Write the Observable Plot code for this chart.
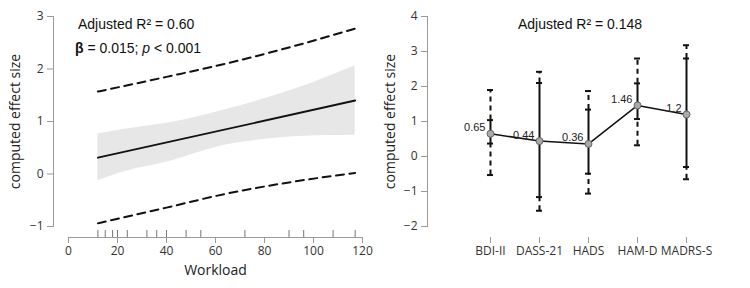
<!DOCTYPE html>
<html>
<head>
<meta charset="utf-8">
<script src="https://cdn.jsdelivr.net/npm/d3@7"></script>
<script src="https://cdn.jsdelivr.net/npm/@observablehq/plot@0.6"></script>
<style>
  body { margin: 0; background: #fff; }
  #chart { position: relative; width: 750px; height: 288px; display: flex; }
  #chart > div.panel { width: 375px; height: 288px; }
  .note {
    position: absolute;
    font-family: "Liberation Sans", Arial, sans-serif;
    font-size: 14px;
    line-height: 14px;
    color: #111;
    white-space: nowrap;
  }
</style>
</head>
<body>
<div id="chart">
  <div class="panel" id="left"></div>
  <div class="panel" id="right"></div>
  <div class="note" style="left:78px; top:17px;">Adjusted R² = 0.60</div>
  <div class="note" style="left:75px; top:41px;"><b>β</b> = 0.015; <i>p</i> &lt; 0.001</div>
  <div class="note" style="left:580px; top:17px; transform: translateX(-50%);">Adjusted R² = 0.148</div>
</div>
<script>
// ---- Meta-regression on workload ----
const workloadTicks = [0, 20, 40, 60, 80, 100, 120];
const leftEffectTicks = [-1, 0, 1, 2, 3];
const workloadRug = [12, 15, 18, 20, 24, 32, 36, 40, 48, 54, 72, 90, 96, 108, 117];
const fitWorkload = [12, 117];
const fitEffect = [0.31, 1.40];
const bandWorkload = [12, 21, 42, 62, 82, 101, 117];
const bandLow = [-0.13, 0.02, 0.25, 0.53, 0.67, 0.73, 0.74];
const bandHigh = [0.76, 0.84, 0.98, 1.20, 1.46, 1.76, 2.06];
const predWorkload = [12, 40, 64, 90, 117];
const predLow = [-0.94, -0.64, -0.38, -0.16, 0.02];
const predHigh = [1.57, 1.85, 2.10, 2.41, 2.77];

// ---- Subgroups by instrument ----
const instruments = ["BDI-II", "DASS-21", "HADS", "HAM-D", "MADRS-S"];
const estimates = [0.65, 0.44, 0.36, 1.46, 1.2];
const ciLow = [0.37, -1.16, -0.49, 1.07, -0.30];
const ciHigh = [1.04, 2.10, 1.34, 2.09, 2.80];
const piLow = [-0.53, -1.55, -1.06, 0.32, -0.65];
const piHigh = [1.90, 2.42, 1.87, 2.80, 3.18];
const rightEffectTicks = [-2, -1, 0, 1, 2, 3, 4];

const band = bandWorkload.map((x, i) => ({x, lo: bandLow[i], hi: bandHigh[i]}));
const pred = predWorkload.map((x, i) => ({x, lo: predLow[i], hi: predHigh[i]}));
const fit = fitWorkload.map((x, i) => ({x, y: fitEffect[i]}));
const rows = instruments.map((inst, i) => ({
  inst, est: estimates[i], ciLo: ciLow[i], ciHi: ciHigh[i], piLo: piLow[i], piHi: piHigh[i]
}));

const axisGray = "#9a9a9a";
const ink = "#333";
const titleInk = "#222";
const intFormat = d => (d < 0 ? "\u2212" : "") + Math.abs(d);
const baseStyle = {fontFamily: "'Open Sans', sans-serif", fontSize: "12px", color: ink, background: "white", overflow: "visible"};

const left = Plot.plot({
  width: 375, height: 288,
  marginTop: 16, marginBottom: 62, marginLeft: 53, marginRight: 13,
  x: {domain: [workloadTicks[0], workloadTicks.at(-1)], range: [68, 362]},
  y: {domain: [leftEffectTicks[0], leftEffectTicks.at(-1)]},
  style: baseStyle,
  marks: [
    Plot.areaY(band, {x: "x", y1: "lo", y2: "hi", fill: "#e7e7e7", curve: "monotone-x"}),
    Plot.line(pred, {x: "x", y: "hi", stroke: "#111", strokeWidth: 2, strokeDasharray: "8,5.5", curve: "monotone-x"}),
    Plot.line(pred, {x: "x", y: "lo", stroke: "#111", strokeWidth: 2, strokeDasharray: "8,5.5", curve: "monotone-x"}),
    Plot.line(fit, {x: "x", y: "y", stroke: "#111", strokeWidth: 1.8}),
    Plot.frame({anchor: "left", stroke: axisGray}),
    Plot.axisY({ticks: leftEffectTicks, tickFormat: intFormat, tickSize: 6, tickPadding: 4, stroke: axisGray, fill: ink, label: null}),
    Plot.ruleY([leftEffectTicks[0]], {x1: workloadTicks[0], x2: workloadTicks.at(-1), dy: 11, stroke: axisGray}),
    Plot.axisX({ticks: workloadTicks, tickFormat: intFormat, tickSize: 6, tickPadding: 3, dy: 11, stroke: axisGray, fill: ink, label: null}),
    Plot.ruleX(workloadRug, {x: d => d, y1: leftEffectTicks[0], y2: leftEffectTicks[0], insetBottom: 7, dy: 11, stroke: "#777"}),
    Plot.text(["computed effect size"], {text: d => d, frameAnchor: "left", textAnchor: "middle", rotate: -90, dx: -38, fontSize: 14, fill: titleInk}),
    Plot.text(["Workload"], {text: d => d, x: (workloadTicks[0] + workloadTicks.at(-1)) / 2, frameAnchor: "bottom", dy: 48, fontSize: 14, fill: titleInk})
  ]
});

const cap = (key) => Plot.ruleY(rows, {x1: "inst", x2: "inst", y: key, insetLeft: -3, insetRight: -3, stroke: "#111", strokeWidth: 2});

const right = Plot.plot({
  width: 375, height: 288,
  marginTop: 16, marginBottom: 62, marginLeft: 52, marginRight: 10,
  x: {type: "point", domain: instruments, range: [89, 337]},
  y: {domain: [rightEffectTicks[0], rightEffectTicks.at(-1)]},
  style: baseStyle,
  marks: [
    Plot.frame({anchor: "left", stroke: axisGray}),
    Plot.axisY({ticks: rightEffectTicks, tickFormat: intFormat, tickSize: 6, tickPadding: 4, stroke: axisGray, fill: ink, label: null}),
    Plot.ruleY([rightEffectTicks[0]], {x1: instruments[0], x2: instruments.at(-1), dy: 11, stroke: axisGray}),
    Plot.axisX({tickSize: 6, tickPadding: 3, dy: 11, stroke: axisGray, fill: ink, label: null}),
    Plot.ruleX(rows, {x: "inst", y1: "piLo", y2: "ciLo", stroke: "#111", strokeWidth: 2, strokeDasharray: "5,4"}),
    Plot.ruleX(rows, {x: "inst", y1: "ciHi", y2: "piHi", stroke: "#111", strokeWidth: 2, strokeDasharray: "5,4"}),
    Plot.ruleX(rows, {x: "inst", y1: "ciLo", y2: "ciHi", stroke: "#111", strokeWidth: 2}),
    cap("piLo"), cap("piHi"), cap("ciLo"), cap("ciHi"),
    Plot.line(rows, {x: "inst", y: "est", stroke: "#111", strokeWidth: 1.5}),
    Plot.dot(rows, {x: "inst", y: "est", r: 3.5, fill: "#a9a9a9", stroke: "#666", strokeWidth: 1}),
    Plot.text(rows, {x: "inst", y: "est", text: d => String(d.est), textAnchor: "end", dx: -5, dy: -6,
      fontFamily: "'Liberation Sans', Arial, sans-serif", fontSize: 11, fill: "#222"}),
    Plot.text(["computed effect size"], {text: d => d, frameAnchor: "left", textAnchor: "middle", rotate: -90, dx: -37, fontSize: 14, fill: titleInk}),
    Plot.text(["Instrument"], {text: d => d, x: instruments[Math.floor(instruments.length / 2)], frameAnchor: "bottom", dy: 48, fontSize: 14, fill: titleInk})
  ]
});

document.getElementById("left").append(left);
document.getElementById("right").append(right);
</script>
</body>
</html>
